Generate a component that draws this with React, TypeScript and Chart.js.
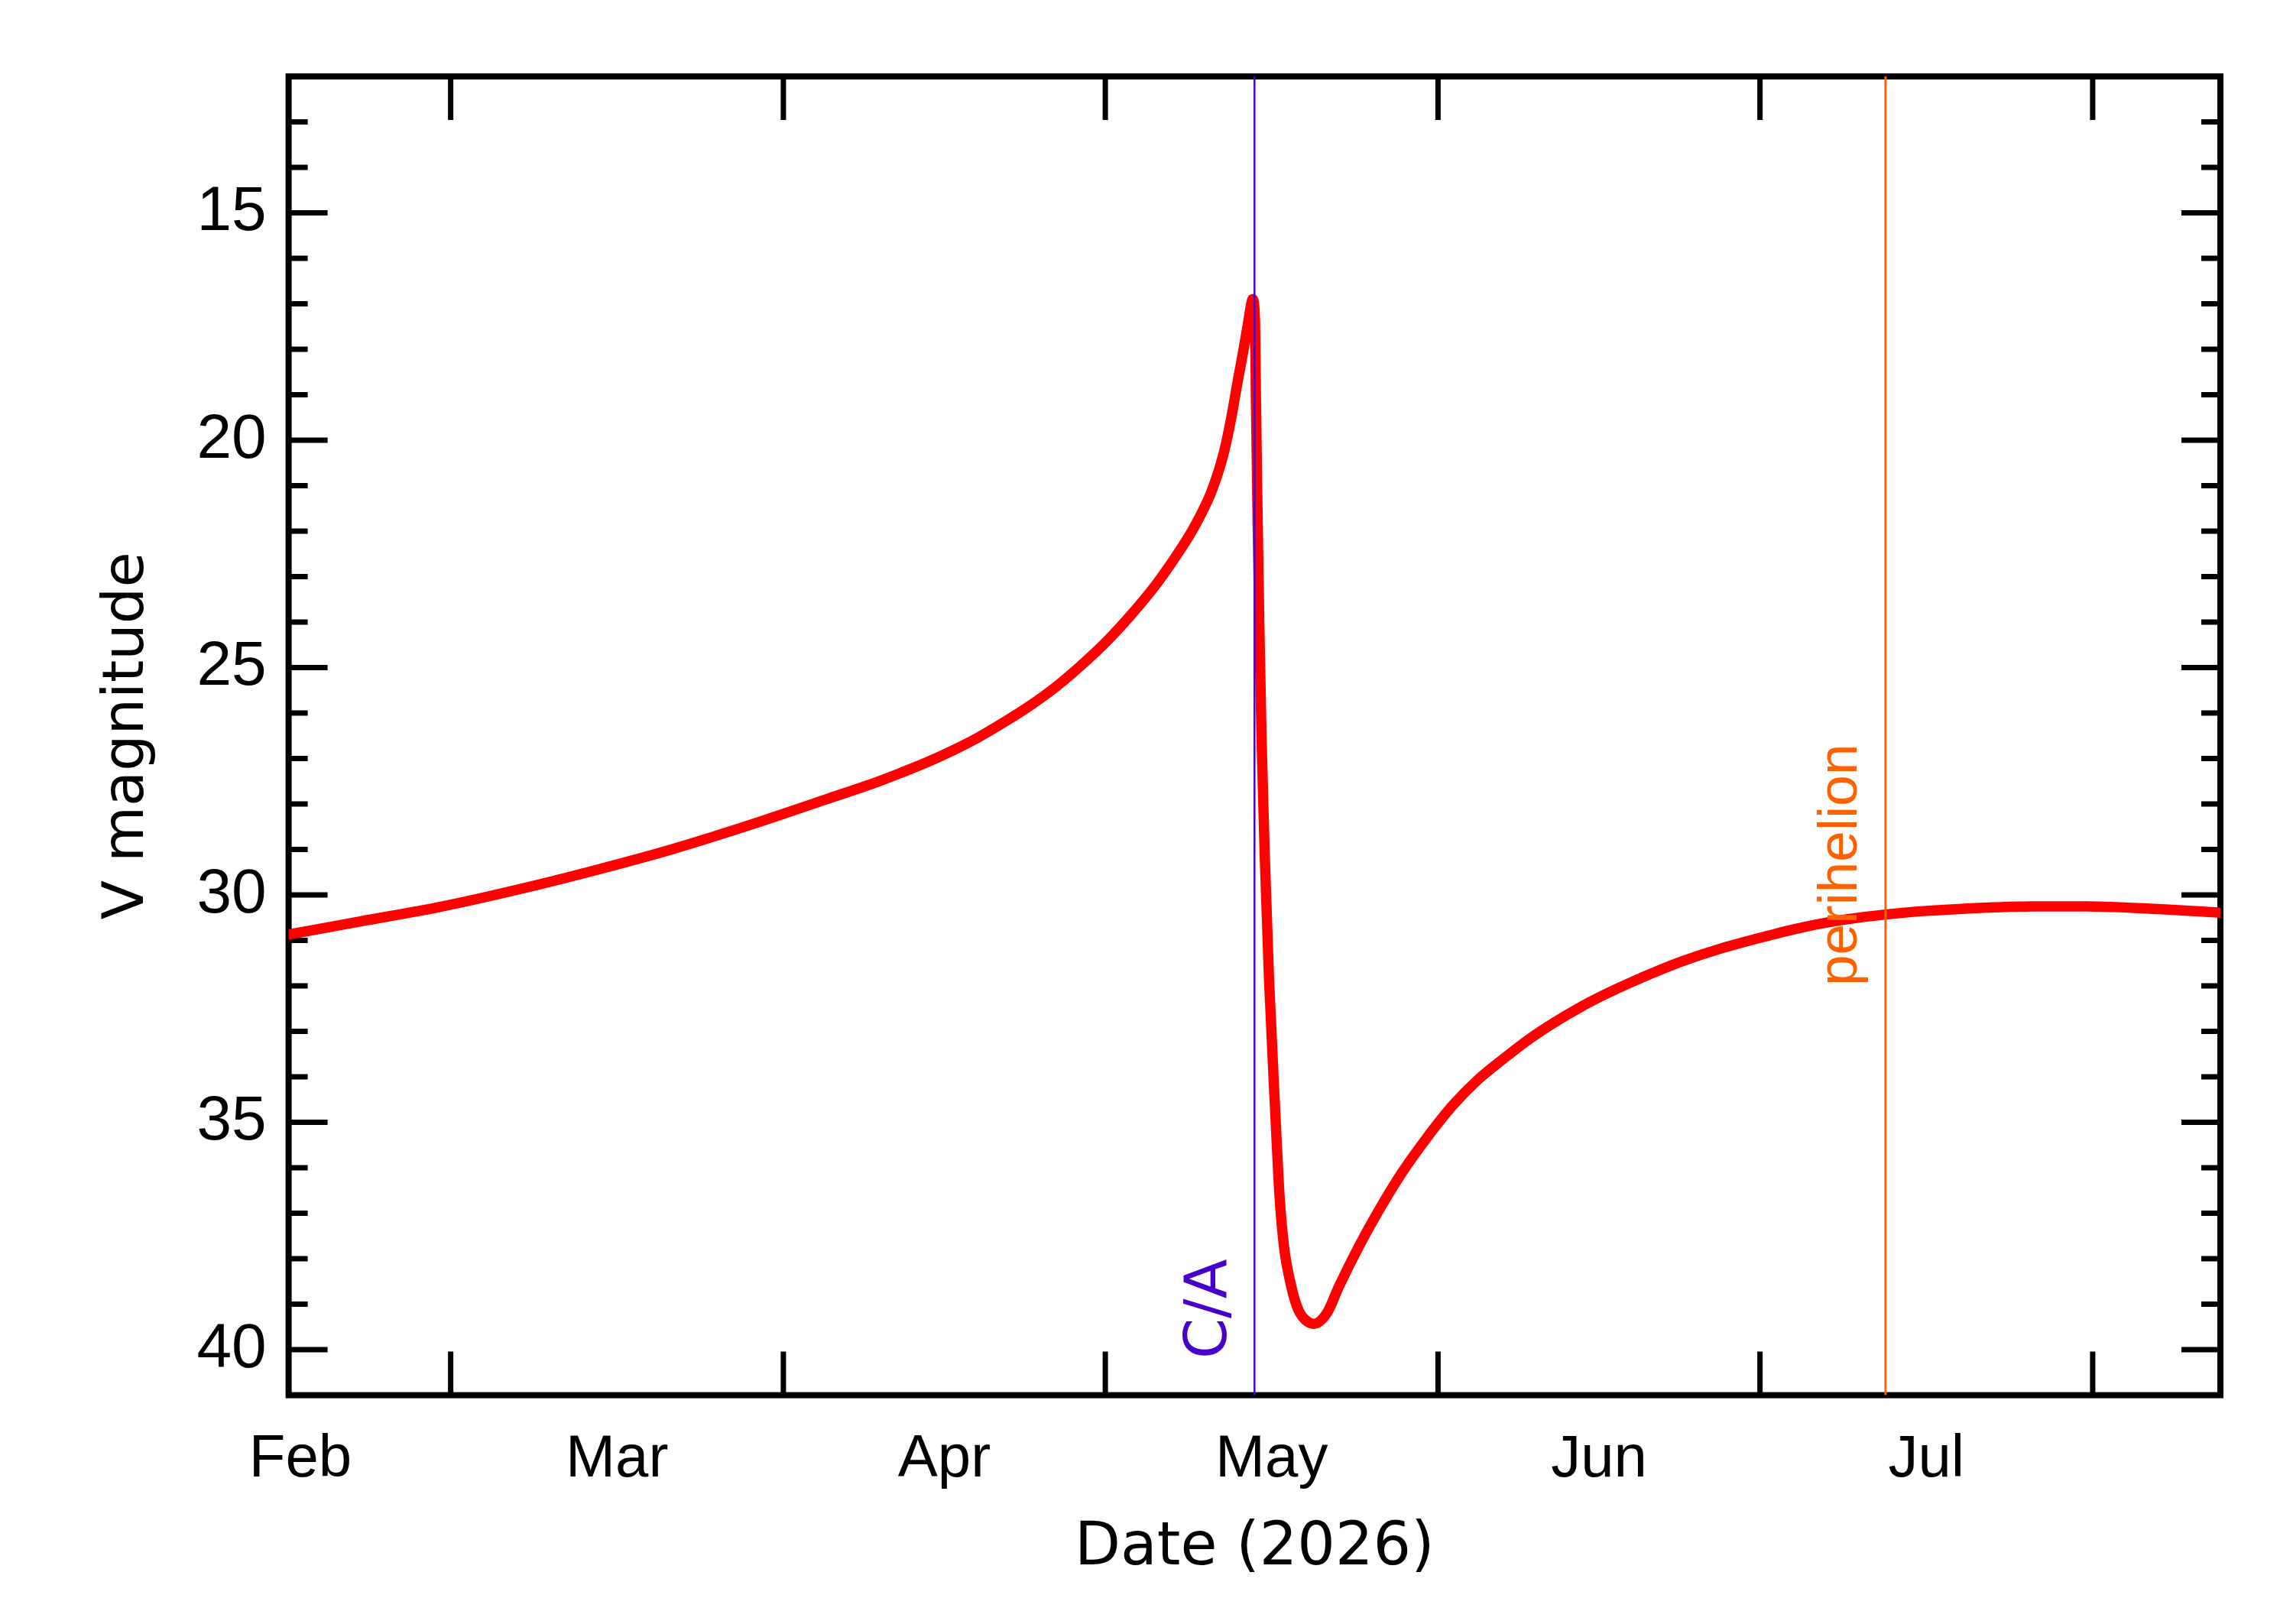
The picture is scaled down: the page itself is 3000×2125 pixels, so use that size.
import React, { useEffect, useRef } from "react";
import { Chart, registerables } from "chart.js";

Chart.register(...registerables);

// ---- data (day of year 2026, Jan 1 = 0) ----
const DAYS = [
  43.9, 50.6, 57.85, 65.1, 72.4, 79.7, 86.9, 94.2, 98.9, 101.0, 103.4, 105.8,
  108.2, 110.5, 112.9, 115.3, 117.7, 120.05, 122.4, 124.8, 127.2, 128.4,
  129.55, 130.0, 130.5, 131.1, 131.7, 132.4, 132.9, 133.35, 133.6, 133.72,
  133.95, 134.03, 134.18, 134.35, 134.56, 134.85, 135.25, 135.87, 136.16,
  136.38, 136.71, 137.31, 137.74, 138.13, 138.62, 139.43, 140.66, 141.75,
  143.6, 145.45, 147.6, 149.99, 152.36, 154.73, 157.11, 159.49, 161.86,
  164.24, 166.61, 168.99, 171.37, 173.74, 177.18, 181.52, 185.0, 188.98,
  192.7, 196.5, 200.16, 206.5, 211.35, 218.8, 223.9,
];
const VMAG = [
  30.87, 30.58, 30.27, 29.89, 29.46, 28.99, 28.46, 27.88, 27.5, 27.31, 27.08,
  26.82, 26.53, 26.21, 25.85, 25.44, 24.96, 24.44, 23.84, 23.15, 22.33, 21.86,
  21.32, 21.06, 20.72, 20.22, 19.55, 18.62, 17.98, 17.35, 17.0, 16.9, 17.39,
  19.06, 21.57, 24.08, 26.59, 29.1, 31.83, 34.95, 36.34, 37.09, 37.84, 38.59,
  38.97, 39.19, 39.34, 39.43, 39.19, 38.62, 37.74, 36.95, 36.12, 35.33, 34.63,
  34.06, 33.6, 33.17, 32.8, 32.47, 32.18, 31.92, 31.68, 31.46, 31.19, 30.91,
  30.71, 30.54, 30.43, 30.35, 30.3, 30.25, 30.25, 30.32, 30.39,
];

const X_MIN = 43.9;
const X_MAX = 223.9;
const Y_MIN = 12;
const Y_MAX = 41;

const MONTH_START_DAYS = [59, 90, 120, 151, 181, 212];
const MONTH_LABEL_DAYS = [45, 74.5, 105, 135.5, 166, 196.5];
const MONTH_LABELS = ["Feb", "Mar", "Apr", "May", "Jun", "Jul"];

const Y_LABELED = [15, 20, 25, 30, 35, 40];

const CA_DAY = 133.9;
const PERI_DAY = 192.7;
const CA_LABEL_MAG = 40.2;
const PERI_LABEL_MAG = 32.0;

const CA_COLOR = "#4600CC";
const PERI_COLOR = "#FF6000";

const framePlugin = {
  id: "idlFrame",
  beforeDatasetsDraw(chart: any) {
    const { ctx, chartArea, scales } = chart;
    const { left, right, top, bottom } = chartArea;
    ctx.save();
    ctx.strokeStyle = "#000";
    ctx.lineCap = "butt";
    ctx.lineWidth = 7;
    const xs = scales.x;
    for (const t of xs.ticks) {
      if (!MONTH_START_DAYS.includes(t.value)) continue;
      const px = xs.getPixelForValue(t.value);
      ctx.beginPath();
      ctx.moveTo(px, bottom);
      ctx.lineTo(px, bottom - 57);
      ctx.moveTo(px, top);
      ctx.lineTo(px, top + 57);
      ctx.stroke();
    }
    const ys = scales.y;
    for (const t of ys.ticks) {
      const py = ys.getPixelForValue(t.value);
      const len = t.value % 5 === 0 ? 51 : 25;
      ctx.beginPath();
      ctx.moveTo(left, py);
      ctx.lineTo(left + len, py);
      ctx.moveTo(right, py);
      ctx.lineTo(right - len, py);
      ctx.stroke();
    }
    ctx.lineWidth = 8;
    ctx.lineJoin = "miter";
    ctx.strokeRect(left, top, right - left, bottom - top);
    ctx.restore();
  },
  afterDatasetsDraw(chart: any) {
    const { ctx, scales } = chart;
    const xs = scales.x;
    const ys = scales.y;
    ctx.save();
    ctx.textAlign = "left";
    ctx.textBaseline = "alphabetic";
    ctx.save();
    ctx.translate(xs.getPixelForValue(CA_DAY) - 37, ys.getPixelForValue(CA_LABEL_MAG));
    ctx.rotate(-Math.PI / 2);
    ctx.fillStyle = CA_COLOR;
    ctx.font = '76px "DejaVu Sans"';
    ctx.fillText("C/A", 0, 0);
    ctx.restore();
    ctx.save();
    ctx.translate(xs.getPixelForValue(PERI_DAY) - 38, ys.getPixelForValue(PERI_LABEL_MAG));
    ctx.rotate(-Math.PI / 2);
    ctx.fillStyle = PERI_COLOR;
    ctx.font = '73px "Liberation Sans"';
    ctx.fillText("perihelion", 0, 0);
    ctx.restore();
    ctx.restore();
  },
};

export default function App() {
  const canvasRef = useRef<HTMLCanvasElement | null>(null);

  useEffect(() => {
    const canvas = canvasRef.current;
    if (!canvas) return;
    const curve = DAYS.map((d, i) => ({ x: d, y: VMAG[i] }));
    const chart = new Chart(canvas, {
      type: "line",
      data: {
        datasets: [
          {
            data: [
              { x: CA_DAY, y: Y_MIN },
              { x: CA_DAY, y: Y_MAX },
            ],
            borderColor: CA_COLOR,
            borderWidth: 2.5,
            pointRadius: 0,
            order: 1,
          },
          {
            data: [
              { x: PERI_DAY, y: Y_MIN },
              { x: PERI_DAY, y: Y_MAX },
            ],
            borderColor: PERI_COLOR,
            borderWidth: 3,
            pointRadius: 0,
            order: 1,
          },
          {
            data: curve,
            borderColor: "#FF0000",
            borderWidth: 13.5,
            pointRadius: 0,
            cubicInterpolationMode: "monotone",
            borderJoinStyle: "round",
            borderCapStyle: "round",
            order: 2,
          },
        ],
      },
      options: {
        responsive: false,
        animation: false,
        devicePixelRatio: 1,
        parsing: false,
        layout: { padding: { top: 100, right: 95, left: 0, bottom: 0 } },
        plugins: {
          legend: { display: false },
          tooltip: { enabled: false },
        },
        scales: {
          x: {
            type: "linear",
            position: "bottom",
            min: X_MIN,
            max: X_MAX,
            grid: { display: false, drawTicks: false },
            border: { display: false },
            afterBuildTicks: (s: any) => {
              s.ticks = [...MONTH_START_DAYS, ...MONTH_LABEL_DAYS]
                .sort((a, b) => a - b)
                .map((v) => ({ value: v }));
            },
            afterFit: (s: any) => {
              s.height = 299.4;
            },
            ticks: {
              autoSkip: false,
              maxRotation: 0,
              minRotation: 0,
              padding: 46,
              color: "#000",
              font: { family: "Liberation Sans", size: 78, lineHeight: 1 },
              callback: (v: any) => {
                const i = MONTH_LABEL_DAYS.indexOf(Number(v));
                return i >= 0 ? MONTH_LABELS[i] : "";
              },
            },
            title: {
              display: true,
              text: "Date (2026)",
              color: "#000",
              font: { family: "DejaVu Sans", size: 78, lineHeight: 1 },
              padding: { top: 0, bottom: 59 },
            },
          },
          y: {
            type: "linear",
            position: "left",
            reverse: true,
            min: Y_MIN,
            max: Y_MAX,
            grid: { display: false, drawTicks: false },
            border: { display: false },
            afterBuildTicks: (s: any) => {
              const t: any[] = [];
              for (let v = Y_MIN; v <= Y_MAX; v++) t.push({ value: v });
              s.ticks = t;
            },
            afterFit: (s: any) => {
              s.width = 377.6;
            },
            ticks: {
              autoSkip: false,
              padding: 29,
              color: "#000",
              font: { family: "Liberation Sans", size: 82, lineHeight: 1 },
              callback: (v: any) => (Y_LABELED.includes(Number(v)) ? String(v) : ""),
            },
            title: {
              display: true,
              text: "V magnitude",
              color: "#000",
              font: { family: "DejaVu Sans", size: 75, lineHeight: 1 },
              padding: { top: 130, bottom: 0 },
            },
          },
        },
      },
      plugins: [framePlugin],
    } as any);
    return () => chart.destroy();
  }, []);

  return (
    <div style={{ position: "absolute", left: 0, top: 0, width: 3000, height: 2125, background: "#fff" }}>
      <canvas ref={canvasRef} width={3000} height={2125} style={{ width: 3000, height: 2125, display: "block" }} />
    </div>
  );
}
